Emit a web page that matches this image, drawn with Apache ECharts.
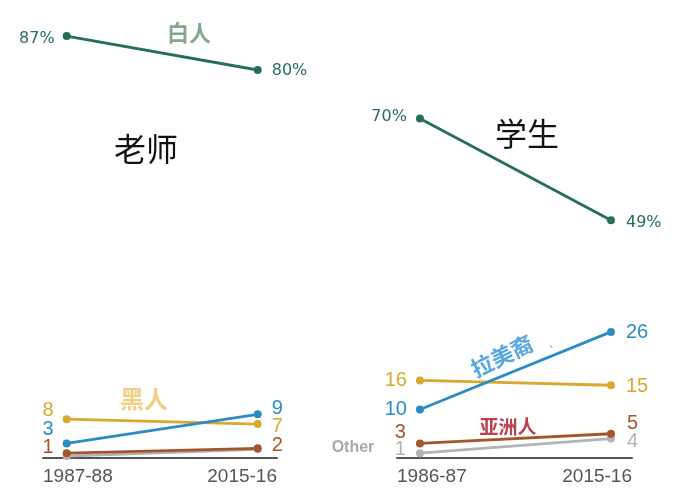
<!DOCTYPE html>
<html><head><meta charset="utf-8">
<script src="https://cdn.jsdelivr.net/npm/echarts@6/dist/echarts.min.js"></script>
<style>html,body{margin:0;padding:0;background:#fff}#c{width:700px;height:500px}</style>
</head><body><div id="c"></div>
<script>
// ---- data ----
const teacherPeriods = ['1987-88', '2015-16'];
const studentPeriods = ['1986-87', '2015-16'];
const groupNames = ['白人', '黑人', '拉美裔', '亚洲人', 'Other'];
const panelTitles = ['老师', '学生'];
const teacherWhite = [87, 80];
const teacherBlack = [8, 7];
const teacherHispanic = [3, 9];
const teacherAsian = [1, 2];
const teacherOther = [0.4, 1.8];
const studentWhite = [70, 49];
const studentBlack = [16, 15];
const studentHispanic = [10, 26];
const studentAsian = [3, 5];
const studentOther = [1, 4];

// ---- styles ----
const C = {white:'#266e5c', black:'#d9a830', hisp:'#2b8cc4', asian:'#a4552b', other:'#b3b3b3'};
const NUM_FONT = 'Liberation Sans';

function mkSeries(grid, name, vals, color, pct, lab, z) {
  return {
    type:'line', name, xAxisIndex:grid, yAxisIndex:grid, z,
    symbol:'circle', symbolSize:8, silent:true, animation:false,
    lineStyle:{width:2.8, color}, itemStyle:{color},
    data: vals.map((v, i) => {
      const l = lab && lab[i];
      return {
        value:[i, v],
        label: l ? {
          show:true, position: i === 0 ? 'left' : 'right', distance:l[0], offset:[0, l[1]],
          formatter: p => p.value[1] + (pct ? '%' : ''), color,
          fontSize: pct ? 16 : 20, fontFamily: pct ? 'DejaVu Sans' : NUM_FONT
        } : {show:false}
      };
    })
  };
}

const X0 = [-0.124, 1.101], X1 = [-0.12, 1.11];
function mkX(grid, range, periods) {
  return {
    type:'value', gridIndex:grid, min:range[0], max:range[1],
    axisLine:{show:true, onZero:false, lineStyle:{color:'#555', width:2}},
    axisTick:{show:false}, splitLine:{show:false},
    axisLabel:{customValues:range, formatter:v => v < 0.5 ? periods[0] : periods[1],
      alignMinLabel:'left', alignMaxLabel:'right', color:'#555', fontSize:19, margin:9, fontFamily:NUM_FONT}
  };
}
function mkY(grid) {
  return {type:'value', gridIndex:grid, min:0, max:90, show:false};
}
function txt(x, y, text, size, color, weight, rot) {
  return {type:'text', x, y, rotation: rot || 0, silent:true,
    style:{text, fill:color, fontSize:size, fontWeight:weight || 'normal',
      fontFamily:'Noto Sans CJK SC', align:'center', verticalAlign:'middle'}};
}

const option = {
  animation:false,
  grid:[
    {left:43, width:234, top:21.5, height:436.5},
    {left:397, width:235, top:21.5, height:436.5}
  ],
  xAxis:[mkX(0, X0, teacherPeriods), mkX(1, X1, studentPeriods)],
  yAxis:[mkY(0), mkY(1)],
  series:[
    mkSeries(0, groupNames[4], teacherOther, C.other, false, null, 1),
    mkSeries(0, groupNames[3], teacherAsian, C.asian, false, [[9,-6],[10,-3]], 2),
    mkSeries(0, groupNames[1], teacherBlack, C.black, false, [[9,-9],[10,2]], 3),
    mkSeries(0, groupNames[2], teacherHispanic, C.hisp, false, [[9,-14],[10,-6]], 4),
    mkSeries(0, groupNames[0], teacherWhite, C.white, true, [[8,3],[10,1]], 5),
    mkSeries(1, groupNames[4], studentOther, C.other, false, [[10,-4],[12,3]], 1),
    mkSeries(1, groupNames[3], studentAsian, C.asian, false, [[10,-11],[12,-10]], 2),
    mkSeries(1, groupNames[1], studentBlack, C.black, false, [[9,0],[11,1]], 3),
    mkSeries(1, groupNames[2], studentHispanic, C.hisp, false, [[9,0],[11,1]], 4),
    mkSeries(1, groupNames[0], studentWhite, C.white, true, [[9,-2],[11,2]], 5)
  ],
  graphic:[
    txt(189, 33, groupNames[0], 22, '#88a68c', 'bold'),
    txt(146, 149, panelTitles[0], 32, '#111'),
    txt(527, 134, panelTitles[1], 32, '#111'),
    txt(144, 399, groupNames[1], 24, '#f0cf85', 'bold'),
    txt(502, 356, groupNames[2], 22, '#55a7de', 'bold', 26 * Math.PI / 180),
    txt(508, 427, groupNames[3], 19, '#b9424d', 'bold'),
    txt(554, 343, '、', 10, '#55a7de'),
    {type:'text', x:353, y:448, silent:true,
      style:{text:groupNames[4], fill:'#aaa', fontSize:16, fontWeight:'bold', fontFamily:NUM_FONT,
        align:'center', verticalAlign:'middle'}}
  ]
};
const chart = echarts.init(document.getElementById('c'), null, {renderer:'canvas'});
chart.setOption(option);
</script></body></html>
